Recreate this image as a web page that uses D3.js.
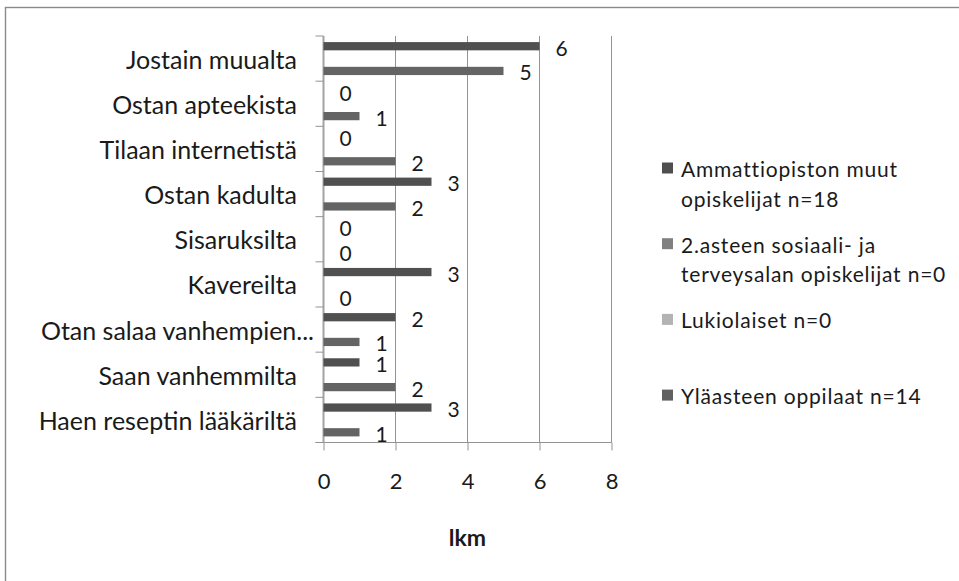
<!DOCTYPE html>
<html>
<head>
<meta charset="utf-8">
<script src="https://cdn.jsdelivr.net/npm/d3@7"></script>
<style>
  html, body { margin: 0; padding: 0; background: #fff; }
  svg { display: block; }
  text { font-family: Lato, "Open Sans", sans-serif; fill: #1a1a1a; }
</style>
</head>
<body>
<svg id="chart" width="959" height="581"></svg>
<script>
// Categories, top to bottom
const categories = [
  "Jostain muualta",
  "Ostan apteekista",
  "Tilaan internetistä",
  "Ostan kadulta",
  "Sisaruksilta",
  "Kavereilta",
  "Otan salaa vanhempien...",
  "Saan vanhemmilta",
  "Haen reseptin lääkäriltä"
];

// Series names, in legend order
const seriesNames = [
  "Ammattiopiston muut opiskelijat n=18",
  "2.asteen sosiaali- ja terveysalan opiskelijat n=0",
  "Lukiolaiset n=0",
  "Yläasteen oppilaat n=14"
];

// Counts per category (null = no answers in that group)
const ammattiopisto = [6, 0, 0, 3, 0, 3, 2, 1, 3];
const sosiaaliTerveys = [null, null, null, null, null, null, null, null, null];
const lukiolaiset = [null, null, null, null, null, null, null, null, null];
const ylaaste = [5, 1, 2, 2, 0, 0, 1, 2, 1];

const xTicks = [0, 2, 4, 6, 8];
const axisTitle = "lkm";

const seriesValues = [ammattiopisto, sosiaaliTerveys, lukiolaiset, ylaaste];
const seriesColors = ["#4f4f4f", "#808080", "#b3b3b3", "#606060"];
const barColors = ["#505050", "#808080", "#b3b3b3", "#646464"];

const svg = d3.select("#chart");

// Outer chart frame
svg.append("rect")
  .attr("x", 5.5).attr("y", 7.5)
  .attr("width", 1200).attr("height", 1200)
  .attr("fill", "none")
  .attr("stroke", "#8a8a8a")
  .attr("stroke-width", 1.4);

const plot = { left: 323.5, right: 611.5, top: 36, bottom: 442.5 };

const x = d3.scaleLinear().domain([0, 8]).range([plot.left, plot.right]);
const y = d3.scaleBand().domain(categories).range([plot.top, plot.bottom]).padding(0);
const ySub = d3.scaleBand().domain(d3.range(seriesNames.length))
  .range([0, y.bandwidth()]).paddingInner(0).paddingOuter(0.74);

const gridColor = "#939393";

// Vertical gridlines
svg.append("g")
  .selectAll("line")
  .data(xTicks.filter(d => d > 0))
  .join("line")
  .attr("x1", d => x(d)).attr("x2", d => x(d))
  .attr("y1", plot.top).attr("y2", plot.bottom)
  .attr("stroke", gridColor).attr("stroke-width", 1);

// Bottom value axis
const xAxis = svg.append("g")
  .attr("transform", `translate(0,${plot.bottom})`)
  .call(d3.axisBottom(x).tickValues(xTicks).tickSize(8).tickPadding(23).tickFormat(d3.format("d")));
xAxis.select(".domain").attr("stroke", gridColor).attr("d", `M${plot.left - 8},0H${plot.right}`);
xAxis.selectAll(".tick line").attr("stroke", gridColor);
xAxis.selectAll(".tick text")
  .attr("font-size", 22).attr("fill", "#1a1a1a")
  .style("font-family", "Lato, sans-serif");

// Left category axis: ticks at band boundaries
const yAxisG = svg.append("g");
yAxisG.append("line")
  .attr("x1", plot.left).attr("x2", plot.left)
  .attr("y1", plot.top).attr("y2", plot.bottom)
  .attr("stroke", "#a3a3a3").attr("stroke-width", 2);
const boundaries = categories.map(c => y(c)).concat([plot.bottom]);
yAxisG.selectAll("line.tk")
  .data(boundaries)
  .join("line").attr("class", "tk")
  .attr("x1", plot.left - 8).attr("x2", plot.left)
  .attr("y1", d => d).attr("y2", d => d)
  .attr("stroke", gridColor);
yAxisG.selectAll("text")
  .data(categories)
  .join("text")
  .attr("x", d => d.endsWith("...") ? 314 : 297)
  .attr("y", d => y(d) + y.bandwidth() / 2)
  .attr("text-anchor", "end")
  .attr("dominant-baseline", "central")
  .attr("font-size", 25)
  .text(d => d);

// Bars and value labels
seriesValues.forEach((vals, si) => {
  const g = svg.append("g");
  const rows = categories.map((c, i) => ({ c, v: vals[i] })).filter(d => d.v !== null);
  g.selectAll("rect")
    .data(rows.filter(d => d.v > 0))
    .join("rect")
    .attr("x", x(0))
    .attr("y", d => y(d.c) + ySub(si))
    .attr("width", d => x(d.v) - x(0))
    .attr("height", ySub.bandwidth())
    .attr("fill", barColors[si]);
  g.selectAll("text")
    .data(rows)
    .join("text")
    .attr("x", d => x(d.v) + 16)
    .attr("y", d => y(d.c) + ySub(si) + ySub.bandwidth() / 2 + 1)
    .attr("dominant-baseline", "central")
    .attr("font-size", 21)
    .text(d => d.v);
});

// Axis title
svg.append("text")
  .attr("x", (plot.left + plot.right) / 2)
  .attr("y", 537)
  .attr("text-anchor", "middle")
  .attr("dominant-baseline", "central")
  .attr("font-size", 23)
  .attr("font-weight", "bold")
  .text(axisTitle);

// Legend
const legend = svg.append("g");
const legendTop = 168, legendStep = 75.7, legendMaxWidth = 280;
seriesNames.forEach((name, i) => {
  const cy = legendTop + i * legendStep;
  legend.append("rect")
    .attr("x", 662).attr("y", cy - 5.5)
    .attr("width", 11).attr("height", 11)
    .attr("fill", seriesColors[i]);
  const t = legend.append("text")
    .attr("x", 681).attr("y", cy)
    .attr("font-size", 21)
    .attr("letter-spacing", 0.8)
    .attr("dominant-baseline", "central");
  // greedy word wrap
  const words = name.split(" ");
  let line = [];
  let tspan = t.append("tspan").attr("x", 681).attr("dy", 0);
  words.forEach(w => {
    line.push(w);
    tspan.text(line.join(" "));
    if (tspan.node().getComputedTextLength() > legendMaxWidth && line.length > 1) {
      line.pop();
      tspan.text(line.join(" "));
      line = [w];
      tspan = t.append("tspan").attr("x", 681).attr("dy", 29.5).text(w);
    }
  });
});
</script>
</body>
</html>
